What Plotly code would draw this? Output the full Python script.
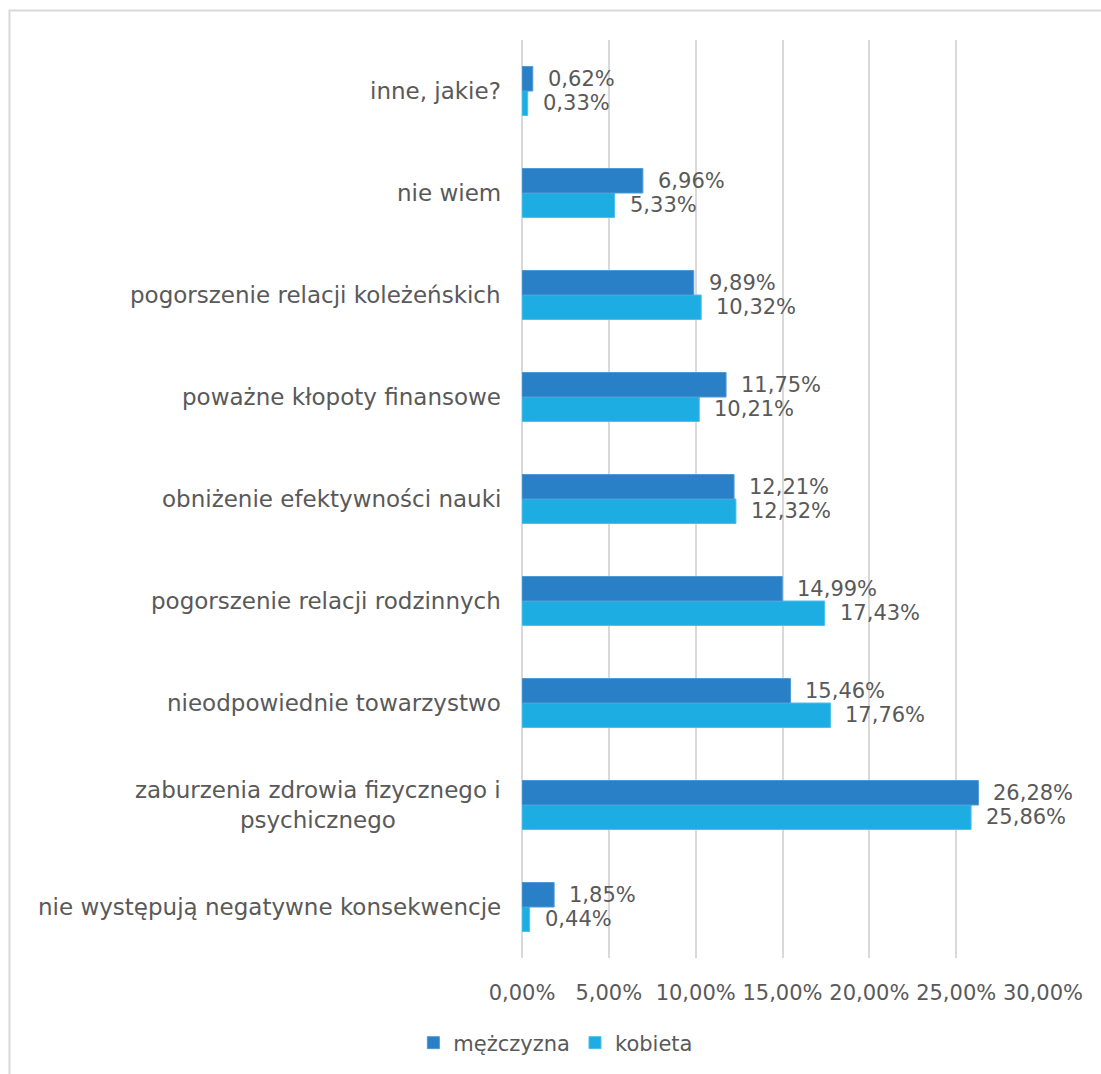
import plotly.graph_objects as go

categories = [
    "nie występują negatywne konsekwencje",
    "zaburzenia zdrowia fizycznego i<br>psychicznego",
    "nieodpowiednie towarzystwo",
    "pogorszenie relacji rodzinnych",
    "obniżenie efektywności nauki",
    "poważne kłopoty finansowe",
    "pogorszenie relacji koleżeńskich",
    "nie wiem",
    "inne, jakie?",
]
mezczyzna = [1.85, 26.28, 15.46, 14.99, 12.21, 11.75, 9.89, 6.96, 0.62]
kobieta = [0.44, 25.86, 17.76, 17.43, 12.32, 10.21, 10.32, 5.33, 0.33]
tick_vals = [0, 5, 10, 15, 20, 25, 30]
tick_text = ["0,00%", "5,00%", "10,00%", "15,00%", "20,00%", "25,00%", "30,00%"]

C_M = "#2980c6"
C_K = "#1dade3"
TXT = "#595959"
FONT = "DejaVu Sans"

def fmt(v):
    return f"{v:.2f}".replace(".", ",") + "%"

fig = go.Figure()
fig.add_trace(go.Bar(y=categories, x=kobieta, orientation="h", name="kobieta",
                     marker=dict(color=C_K, line=dict(color="#4fc0ea", width=1)),
                     legendrank=2, hoverinfo="skip"))
fig.add_trace(go.Bar(y=categories, x=mezczyzna, orientation="h", name="mężczyzna",
                     marker=dict(color=C_M, line=dict(color="#4f9ad6", width=1)),
                     legendrank=1, hoverinfo="skip"))

annotations = []
for c, m, k in zip(categories, mezczyzna, kobieta):
    annotations.append(dict(x=m, y=c, xref="x", yref="y", text=fmt(m), showarrow=False,
                            xanchor="left", yanchor="middle", xshift=13, yshift=12,
                            font=dict(family=FONT, size=21, color=TXT)))
    annotations.append(dict(x=k, y=c, xref="x", yref="y", text=fmt(k), showarrow=False,
                            xanchor="left", yanchor="middle", xshift=13, yshift=-12,
                            font=dict(family=FONT, size=21, color=TXT)))
    annotations.append(dict(x=-0.037, y=c, xref="paper", yref="y", text=c, showarrow=False,
                            xanchor="right", yanchor="middle", align="center",
                            font=dict(family=FONT, size=23, color=TXT)))

fig.update_layout(
    width=1101, height=1074,
    margin=dict(l=522, r=58, t=40, b=115),
    paper_bgcolor="white", plot_bgcolor="white",
    barmode="group", bargap=0.52, bargroupgap=0,
    font=dict(family=FONT, size=21, color=TXT),
    xaxis=dict(range=[0, 30], tickvals=tick_vals, ticktext=tick_text,
               showgrid=True, gridcolor="#d9d9d9", gridwidth=2,
               zeroline=True, zerolinecolor="#d9d9d9", zerolinewidth=2,
               showline=False, ticks="", ticklabelstandoff=20,
               tickfont=dict(family=FONT, size=21, color=TXT), fixedrange=True),
    yaxis=dict(showticklabels=False, showgrid=False, zeroline=False, showline=False,
               ticks="", fixedrange=True),
    showlegend=True,
    legend=dict(orientation="h", x=0.065, xanchor="center", y=-0.0914, yanchor="middle",
                font=dict(family=FONT, size=21, color=TXT), itemwidth=30,
                bgcolor="rgba(0,0,0,0)"),
    annotations=annotations,
    shapes=[dict(type="rect", xref="paper", yref="paper",
                 x0=-0.9837, x1=1.3, y0=-0.3, y1=1.0321,
                 line=dict(color="#d9d9d9", width=2), fillcolor="rgba(0,0,0,0)",
                 layer="below")],
)

fig.write_html("out.html", config={"displayModeBar": False},
               post_script="document.body.style.margin='0';document.body.style.overflow='hidden';")
